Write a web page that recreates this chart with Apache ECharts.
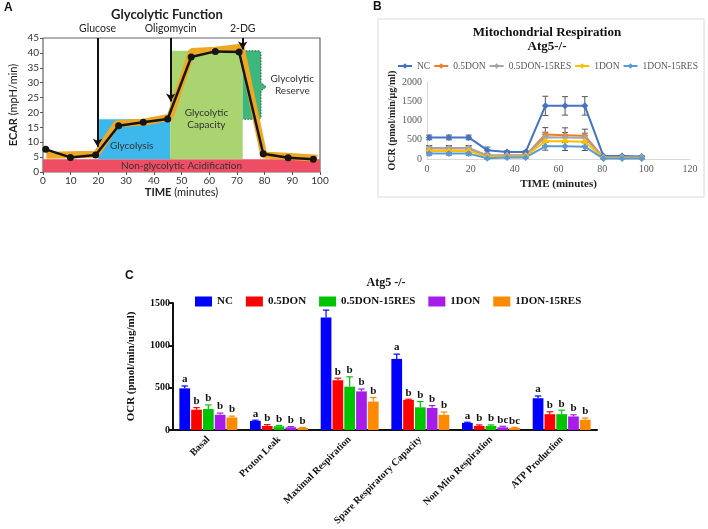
<!DOCTYPE html>
<html>
<head>
<meta charset="utf-8">
<script src="https://cdn.jsdelivr.net/npm/echarts@6/dist/echarts.min.js"></script>
<style>
  html, body { margin: 0; padding: 0; background: #fff; }
  #chart { width: 708px; height: 529px; }
</style>
</head>
<body>
<div id="chart"></div>
<script>
// ---- panel A: glycolytic function ----
const aTime = [1, 9.9, 19, 27.3, 36.2, 45, 53.5, 62.2, 70.8, 79.5, 88.5, 97.6]
const aEcar = [7.6, 4.9, 5.7, 15.5, 16.7, 17.8, 38.6, 40.5, 40.3, 6.1, 4.8, 4.3]
const aBandTime = [1.2, 19.3, 26.6, 36.2, 45.9, 53.7, 62.2, 71.5, 79.7, 89.4, 99]
const aBand = [5.6, 6, 16.2, 16.7, 18.4, 40.5, 40.9, 41.9, 5.7, 5.2, 4.6]
// [x0, x1, y0, y1]
const aAcid = [0, 100, 0, 4.3]
const aGlycolysis = [19.9, 45.9, 4.3, 17.7]
const aCapacity = [45.9, 72.1, 4.3, 40.7]
const aReserve = [[72.1, 40.7], [78.2, 40.7], [78.7, 40], [78.7, 30], [80.6, 28.6], [78.7, 27.2], [78.7, 18.4], [78.2, 17.7], [72.1, 17.7]]
const aArrowX = [19.7, 46.1, 72.1]
const aArrowEnd = [8.5, 23.7, 41.1]
const aArrowNames = ['Glucose', 'Oligomycin', '2-DG']
const aNotes = [
  [32, 8.9, 'Glycolysis'],
  [59, 18, 'Glycolytic\nCapacity'],
  [90, 29.3, 'Glycolytic\nReserve'],
  [50, 2.1, 'Non-glycolytic Acidification']
]

// ---- panel B: mitochondrial respiration ----
const bTime = [1, 10, 19, 27.5, 36.5, 45, 54, 63, 72, 80.5, 89, 98]
const bNames = ['NC', '0.5DON', '0.5DON-15RES', '1DON', '1DON-15RES']
const bNC = [560, 560, 560, 230, 180, 180, 1380, 1380, 1380, 75, 75, 65]
const bDon05 = [270, 270, 270, 85, 90, 95, 635, 620, 605, 35, 35, 30]
const bDon05Res = [285, 285, 285, 90, 95, 100, 565, 560, 550, 45, 45, 40]
const bDon1 = [210, 210, 210, 55, 65, 70, 460, 460, 450, 25, 25, 25]
const bDon1Res = [140, 140, 140, 20, 40, 40, 330, 330, 320, 10, 10, 10]
const bNCErr = [60, 60, 60, 80, 30, 30, 250, 240, 240, 20, 20, 20]
const bDon05Err = [70, 70, 70, 30, 30, 30, 180, 190, 170, 15, 15, 15]
const bDon05ResErr = [60, 60, 60, 30, 30, 30, 130, 130, 120, 15, 15, 15]
const bDon1Err = [50, 50, 50, 25, 25, 25, 110, 110, 110, 10, 10, 10]
const bDon1ResErr = [40, 40, 40, 20, 20, 20, 100, 110, 100, 10, 10, 10]

// ---- panel C: OCR parameters ----
const cCats = ['Basal', 'Proton Leak', 'Maximal Respiration', 'Spare Respiratory Capacity', 'Non Mito Respiration', 'ATP Production']
const cNC = [492, 108, 1328, 840, 84, 375]
const cDon05 = [240, 48, 588, 356, 48, 187]
const cDon05Res = [248, 44, 512, 268, 48, 187]
const cDon1 = [180, 32, 456, 260, 32, 160]
const cDon1Res = [148, 24, 336, 180, 24, 121]
const cNCErr = [28, 8, 88, 56, 8, 27]
const cDon05Err = [24, 16, 24, 8, 12, 28]
const cDon05ResErr = [48, 10, 116, 68, 12, 47]
const cDon1Err = [20, 8, 28, 28, 12, 20]
const cDon1ResErr = [16, 6, 48, 32, 8, 20]
const cNCLetters = ['a', 'a', 'a', 'a', 'a', 'a']
const cDon05Letters = ['b', 'b', 'b', 'b', 'b', 'b']
const cDon05ResLetters = ['b', 'b', 'b', 'b', 'b', 'b']
const cDon1Letters = ['b', 'b', 'b', 'b', 'bc', 'b']
const cDon1ResLetters = ['b', 'b', 'b', 'b', 'bc', 'b']

const chart = echarts.init(document.getElementById('chart'))

const sansA = 'Lato'
const serif = 'Liberation Serif'

const bColors = ['#4472C4', '#ED7D31', '#A5A5A5', '#FFC000', '#5B9BD5']
const cColors = ['#0000FF', '#FF0000', '#00C400', '#A81CE8', '#FF8A00']

// rectangle regions of panel A
function rectItem(color) {
  return function (params, api) {
    const p0 = api.coord([api.value(0), api.value(3)])
    const p1 = api.coord([api.value(1), api.value(2)])
    return {
      type: 'rect',
      shape: { x: p0[0], y: p0[1], width: p1[0] - p0[0], height: p1[1] - p0[1] },
      style: { fill: color }
    }
  }
}

// error bars for the time course (both directions)
function bErrItem(params, api) {
  const x = api.value(0), v = api.value(1), e = api.value(2)
  const top = api.coord([x, v + e])
  const bot = api.coord([x, Math.max(v - e, 0)])
  const st = { stroke: '#555', lineWidth: 1 }
  return {
    type: 'group',
    children: [
      { type: 'line', shape: { x1: top[0], y1: top[1], x2: bot[0], y2: bot[1] }, style: st },
      { type: 'line', shape: { x1: top[0] - 3, y1: top[1], x2: top[0] + 3, y2: top[1] }, style: st },
      { type: 'line', shape: { x1: bot[0] - 3, y1: bot[1], x2: bot[0] + 3, y2: bot[1] }, style: st }
    ]
  }
}

// error bars + letters on top of the grouped bars
const barCatGap = 0.18
const barGap = 0.1
function cErrItem(idx, color, letters) {
  return function (params, api) {
    const ci = api.value(0), v = api.value(1), e = api.value(2)
    const band = api.size([1, 0])[0]
    const used = band * (1 - barCatGap)
    const bw = used / (5 + 4 * barGap)
    const center = api.coord([ci, 0])[0]
    const x = center - used / 2 + idx * bw * (1 + barGap) + bw / 2
    const yTop = api.coord([ci, v])[1]
    const yErr = api.coord([ci, v + e])[1]
    const st = { stroke: color, lineWidth: 1.2 }
    return {
      type: 'group',
      children: [
        { type: 'line', shape: { x1: x, y1: yTop, x2: x, y2: yErr }, style: st },
        { type: 'line', shape: { x1: x - bw * 0.3, y1: yErr, x2: x + bw * 0.3, y2: yErr }, style: st },
        {
          type: 'text',
          style: {
            x: x, y: yErr - 1, text: letters[params.dataIndex],
            align: 'center', verticalAlign: 'bottom',
            font: 'bold 11px "Liberation Serif"', fill: '#111'
          }
        }
      ]
    }
  }
}

const bSeriesData = [bNC, bDon05, bDon05Res, bDon1, bDon1Res]
const bErrData = [bNCErr, bDon05Err, bDon05ResErr, bDon1Err, bDon1ResErr]
const cSeriesData = [cNC, cDon05, cDon05Res, cDon1, cDon1Res]
const cErrData = [cNCErr, cDon05Err, cDon05ResErr, cDon1Err, cDon1ResErr]
const cLetters = [cNCLetters, cDon05Letters, cDon05ResLetters, cDon1Letters, cDon1ResLetters]

const series = [
  {
    name: 'acid', type: 'custom', xAxisIndex: 0, yAxisIndex: 0, z: 1,
    renderItem: rectItem('#EF4D63'), data: [aAcid]
  },
  {
    name: 'glycolysis', type: 'custom', xAxisIndex: 0, yAxisIndex: 0, z: 1,
    renderItem: rectItem('#3CB8EC'), data: [aGlycolysis]
  },
  {
    name: 'capacity', type: 'custom', xAxisIndex: 0, yAxisIndex: 0, z: 1,
    renderItem: rectItem('#A9D470'), data: [aCapacity]
  },
  {
    name: 'reserve', type: 'custom', xAxisIndex: 0, yAxisIndex: 0, z: 1,
    renderItem: function (params, api) {
      const pts = aReserve.map(p => api.coord(p))
      return {
        type: 'group',
        children: [
          { type: 'polygon', shape: { points: pts }, style: { fill: '#3DB77B' } },
          { type: 'polyline', shape: { points: pts }, style: { fill: null, stroke: '#2d5a42', lineWidth: 1, lineDash: [1.5, 1.5] } }
        ]
      }
    },
    data: [[0, 0]]
  },
  {
    name: 'notes', type: 'custom', xAxisIndex: 0, yAxisIndex: 0, z: 3,
    renderItem: function (params, api) {
      const p = api.coord([api.value(0), api.value(1)])
      return {
        type: 'text',
        style: {
          x: p[0], y: p[1], text: aNotes[params.dataIndex][2],
          align: 'center', verticalAlign: 'middle',
          font: '10px Lato', fill: '#333', lineHeight: 12
        }
      }
    },
    data: aNotes.map(n => [n[0], n[1]])
  },
  {
    name: 'band', type: 'line', xAxisIndex: 0, yAxisIndex: 0, z: 4,
    data: aBandTime.map((t, i) => [t, aBand[i]]),
    showSymbol: false, lineStyle: { color: '#EEA823', width: 7 }
  },
  {
    name: 'ecar', type: 'line', xAxisIndex: 0, yAxisIndex: 0, z: 5,
    data: aTime.map((t, i) => [t, aEcar[i]]),
    symbol: 'circle', symbolSize: 7,
    itemStyle: { color: '#151515' },
    lineStyle: { color: '#151515', width: 2.5 },
    markLine: {
      silent: true,
      symbol: ['none', 'arrow'], symbolSize: [7, 8],
      lineStyle: { color: '#111', width: 2, type: 'solid' },
      label: {
        position: 'start', formatter: '{b}', distance: 4,
        fontFamily: sansA, fontSize: 10.5, color: '#222'
      },
      data: aArrowX.map((x, i) => [
        { coord: [x, 45], name: aArrowNames[i] },
        { coord: [x, aArrowEnd[i]] }
      ])
    }
  }
]

bNames.forEach((name, i) => {
  series.push({
    name: 'errB' + i, type: 'custom', xAxisIndex: 1, yAxisIndex: 1, z: 2,
    renderItem: bErrItem,
    data: bTime.map((t, j) => [t, bSeriesData[i][j], bErrData[i][j]])
  })
})
bNames.forEach((name, i) => {
  series.push({
    name: name, type: 'line', xAxisIndex: 1, yAxisIndex: 1, z: 3,
    data: bTime.map((t, j) => [t, bSeriesData[i][j]]),
    symbol: 'diamond', symbolSize: 7,
    itemStyle: { color: bColors[i] },
    lineStyle: { color: bColors[i], width: 2 }
  })
})
bNames.forEach((name, i) => {
  series.push({
    name: name, type: 'bar', xAxisIndex: 2, yAxisIndex: 2,
    data: cSeriesData[i],
    itemStyle: { color: cColors[i] },
    barGap: (barGap * 100) + '%', barCategoryGap: (barCatGap * 100) + '%'
  })
})
bNames.forEach((name, i) => {
  series.push({
    name: 'errC' + i, type: 'custom', xAxisIndex: 2, yAxisIndex: 2, z: 3,
    renderItem: cErrItem(i, cColors[i], cLetters[i]),
    data: cCats.map((c, j) => [j, cSeriesData[i][j], cErrData[i][j]])
  })
})

const plainNum = v => String(v)

const option = {
  animation: false,
  backgroundColor: '#fff',
  graphic: [
    { type: 'rect', shape: { x: 378, y: 19, width: 326, height: 178 }, style: { fill: 'none', stroke: '#d9d9d9', lineWidth: 1 } },
    { type: 'text', left: 4, top: 2, style: { text: 'A', font: 'bold 12px "Liberation Sans"', fill: '#111' } },
    { type: 'text', left: 373, top: 1, style: { text: 'B', font: 'bold 12px "Liberation Sans"', fill: '#111' } },
    { type: 'text', left: 125, top: 270, style: { text: 'C', font: 'bold 12px "Liberation Sans"', fill: '#111' } }
  ],
  title: [
    {
      text: 'Glycolytic Function', left: 162, top: 3, textAlign: 'center',
      textStyle: { fontFamily: sansA, fontSize: 13, fontWeight: 'bold', color: '#222' }
    },
    {
      text: 'Mitochondrial Respiration\nAtg5-/-', left: 542, top: 21, textAlign: 'center',
      textStyle: { fontFamily: serif, fontSize: 13, fontWeight: 'bold', color: '#111', lineHeight: 14 }
    },
    {
      text: 'Atg5 -/-', left: 381, top: 272, textAlign: 'center',
      textStyle: { fontFamily: serif, fontSize: 12, fontWeight: 'bold', color: '#111' }
    }
  ],
  legend: [
    {
      left: 392, top: 56, width: 316, itemWidth: 14, itemHeight: 7, itemGap: 3,
      textStyle: { fontFamily: serif, fontSize: 9.5, color: '#595959' },
      data: bNames.map((n, i) => ({ name: n, itemStyle: { color: bColors[i] }, lineStyle: { color: bColors[i] } }))
    },
    {
      left: 190, top: 291, width: 500, itemWidth: 17, itemHeight: 10, itemGap: 13, icon: 'rect',
      textStyle: { fontFamily: serif, fontSize: 11, fontWeight: 'bold', color: '#111' },
      data: bNames.map((n, i) => ({ name: n, itemStyle: { color: cColors[i] } }))
    }
  ],
  grid: [
    { left: 43, top: 38, width: 277, height: 134, show: true, borderColor: '#666', borderWidth: 1.2, backgroundColor: 'transparent' },
    { left: 427, top: 82, width: 263, height: 77 },
    { left: 173, top: 303, width: 424, height: 127 }
  ],
  xAxis: [
    {
      gridIndex: 0, type: 'value', min: 0, max: 100, interval: 10,
      name: '{b|TIME} (minutes)', nameLocation: 'middle', nameGap: 14,
      nameTextStyle: { fontFamily: sansA, fontSize: 11, color: '#222', rich: { b: { fontFamily: sansA, fontSize: 11, fontWeight: 'bold', color: '#222' } } },
      axisLine: { show: false }, axisTick: { show: true, length: 3, lineStyle: { color: '#555' } },
      axisLabel: { fontFamily: sansA, fontSize: 10, color: '#333', margin: 4 },
      splitLine: { show: false }
    },
    {
      gridIndex: 1, type: 'value', min: 0, max: 120, interval: 20,
      name: 'TIME (minutes)', nameLocation: 'middle', nameGap: 20,
      nameTextStyle: { fontFamily: serif, fontSize: 11, fontWeight: 'bold', color: '#222' },
      axisLine: { lineStyle: { color: '#d9d9d9' } }, axisTick: { show: false },
      axisLabel: { fontFamily: serif, fontSize: 10, color: '#595959', margin: 5 },
      splitLine: { show: false }
    },
    {
      gridIndex: 2, type: 'category', data: cCats,
      axisLine: { lineStyle: { color: '#111', width: 2 } },
      axisTick: { alignWithLabel: true, length: 5, lineStyle: { color: '#111', width: 2 } },
      axisLabel: { rotate: 45, interval: 0, fontFamily: serif, fontSize: 10, fontWeight: 'bold', color: '#111', margin: 8 }
    }
  ],
  yAxis: [
    {
      gridIndex: 0, type: 'value', min: 0, max: 45, interval: 5,
      name: '{b|ECAR} (mpH/min)', nameLocation: 'middle', nameGap: 24,
      nameTextStyle: { fontFamily: sansA, fontSize: 11, color: '#222', rich: { b: { fontFamily: sansA, fontSize: 11, fontWeight: 'bold', color: '#222' } } },
      axisLine: { show: false }, axisTick: { show: true, length: 3, lineStyle: { color: '#555' } },
      axisLabel: { fontFamily: sansA, fontSize: 10, color: '#333', margin: 4 },
      splitLine: { show: false }
    },
    {
      gridIndex: 1, type: 'value', min: 0, max: 2000, interval: 500,
      name: 'OCR (pmol/min/μg/ml)', nameLocation: 'middle', nameGap: 30,
      nameTextStyle: { fontFamily: serif, fontSize: 10, fontWeight: 'bold', color: '#222' },
      axisLine: { show: true, lineStyle: { color: '#d9d9d9' } }, axisTick: { show: false },
      axisLabel: { fontFamily: serif, fontSize: 10, color: '#595959', margin: 5, formatter: plainNum },
      splitLine: { show: false }
    },
    {
      gridIndex: 2, type: 'value', min: 0, max: 1500, interval: 500,
      name: 'OCR (pmol/min/ug/ml)', nameLocation: 'middle', nameGap: 36,
      nameTextStyle: { fontFamily: serif, fontSize: 11, fontWeight: 'bold', color: '#111' },
      axisLine: { show: true, lineStyle: { color: '#111', width: 2 } },
      axisTick: { show: true, length: 4, lineStyle: { color: '#111', width: 2 } },
      axisLabel: { fontFamily: serif, fontSize: 10, fontWeight: 'bold', color: '#111', margin: 3, formatter: plainNum },
      splitLine: { show: false }
    }
  ],
  series: series
}

chart.setOption(option)
</script>
</body>
</html>
